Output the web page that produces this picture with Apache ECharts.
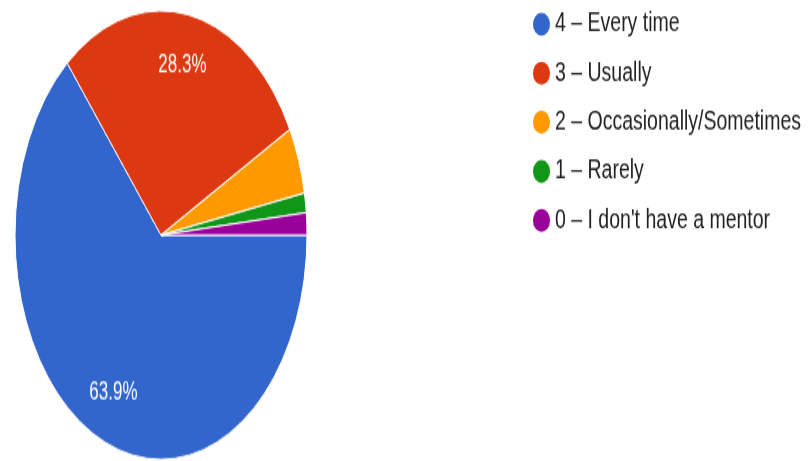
<!DOCTYPE html>
<html>
<head>
<meta charset="utf-8">
<script src="https://cdn.jsdelivr.net/npm/echarts@6/dist/echarts.min.js"></script>
<style>
  html, body { margin: 0; padding: 0; background: #ffffff; overflow: hidden; }
  #wrap { position: relative; width: 809px; height: 461px; overflow: hidden; background: #fff; }
  #pie { position: absolute; left: 0; top: 0; width: 809px; height: 300px; transform-origin: 0 0; transform: scaleY(1.5367); }
  #leg { position: absolute; left: 0; top: 0; width: 809px; height: 342px; transform-origin: 0 0; transform: scaleY(1.35); }
</style>
</head>
<body>
<div id="wrap">
  <div id="pie"></div>
  <div id="leg"></div>
</div>
<script>
// Data
const categories = ['4 – Every time', '3 – Usually', '2 – Occasionally/Sometimes', '1 – Rarely', "0 – I don't have a mentor"];
const values = [63.9, 28.3, 4.8, 1.4, 1.6];
const colors = ['#3366cc', '#dc3912', '#ff9900', '#109618', '#990099'];

const pieData = categories.map((c, i) => ({ name: c, value: values[i] }));

const font = "'Liberation Sans', Arial, sans-serif";

// Pie chart (drawn native, stretched vertically by CSS like the reference)
const pieChart = echarts.init(document.getElementById('pie'), null, { renderer: 'canvas' });
pieChart.setOption({
  animation: false,
  color: colors,
  series: [
    {
      type: 'pie',
      center: [161, 153],
      radius: [0, 146],
      startAngle: 0,
      clockwise: true,
      silent: true,
      label: { show: false },
      labelLine: { show: false },
      itemStyle: { borderColor: '#ffffff', borderWidth: 1 },
      emphasis: { disabled: true },
      data: pieData
    },
    {
      type: 'pie',
      center: [161, 153],
      radius: [73, 146],
      startAngle: 0,
      clockwise: true,
      silent: true,
      itemStyle: { color: 'rgba(0,0,0,0)', borderWidth: 0 },
      labelLine: { show: false },
      emphasis: { disabled: true },
      label: {
        show: true,
        position: 'inside',
        color: '#ffffff',
        fontFamily: font,
        fontSize: 17,
        formatter: p => (p.percent >= 10 ? p.percent.toFixed(1) + '%' : '')
      },
      data: pieData
    }
  ]
});

// Legend (separate instance, own vertical stretch)
const legChart = echarts.init(document.getElementById('leg'), null, { renderer: 'canvas' });
legChart.setOption({
  animation: false,
  color: colors,
  legend: {
    orient: 'vertical',
    left: 528,
    top: 3,
    icon: 'circle',
    itemWidth: 17,
    itemHeight: 17,
    itemGap: 16.3,
    selectedMode: false,
    textStyle: { color: '#222222', fontFamily: font, fontSize: 19.5, lineHeight: 20 },
    data: categories
  },
  series: [
    {
      type: 'pie',
      center: [-1000, -1000],
      radius: [0, 1],
      silent: true,
      label: { show: false },
      labelLine: { show: false },
      data: pieData
    }
  ]
});
</script>
</body>
</html>
